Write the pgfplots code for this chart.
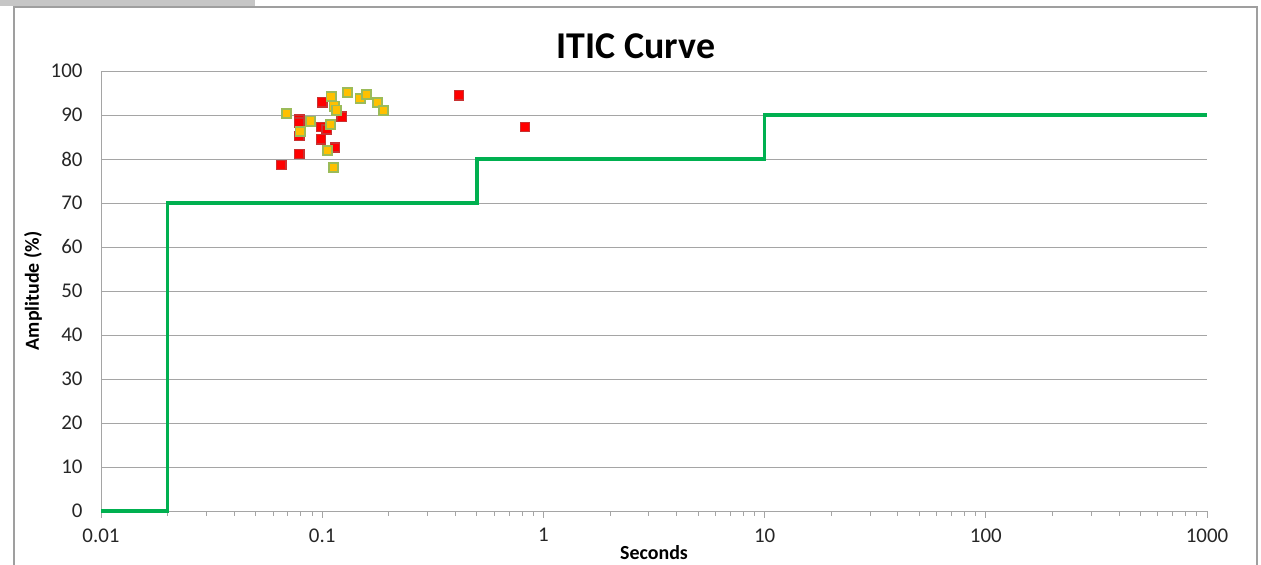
\documentclass[border=0pt]{standalone}
\usepackage{pgfplots}
\pgfplotsset{compat=1.18}
\usepackage{fontspec}
\setmainfont{Carlito}
\definecolor{itic}{RGB}{0,176,80}
\definecolor{gridc}{RGB}{165,165,165}
\definecolor{yfill}{RGB}{255,192,0}
\definecolor{yedge}{RGB}{155,187,89}
\definecolor{redge}{RGB}{200,50,50}
\begin{document}
\begin{tikzpicture}[x=1bp,y=1bp]
\useasboundingbox (0,0) rectangle (1261,565);
\fill[gray!45] (0,559) rectangle (255,565);
\draw[gray!75, line width=1.5bp] (14,-5) -- (14,558) -- (1257,558) -- (1257,-5);
\begin{axis}[
  at={(101bp,54bp)}, anchor=south west, scale only axis,
  width=1106bp, height=440bp,
  xmode=log, xmin=0.01, xmax=1000, ymin=0, ymax=100,
  xtick={0.01,0.1,1,10,100,1000},
  xticklabels={0.01,0.1,1,10,100,1000},
  ytick={0,10,...,100},
  ymajorgrids, grid style={gridc, line width=0.9bp},
  axis lines*=left,
  axis line style={gridc, line width=0.9bp},
  tick style={gridc, line width=0.9bp},
  tick align=outside,
  major tick length=7bp, minor tick length=5bp,
  ytick style={draw=none},
  /pgf/number format/assume math mode=true,
  tick label style={font=\fontsize{21}{24}\selectfont, black!85},
  yticklabel style={xshift=-8bp},
  xticklabel style={yshift=-7bp},
  title={\bfseries ITIC Curve},
  title style={font=\fontsize{38}{42}\selectfont, at={(axis description cs:0.5,1)}, anchor=center, yshift=19bp, xshift=-18bp},
  xlabel={\bfseries Seconds},
  xlabel style={font=\fontsize{20}{23}\selectfont, at={(axis description cs:0.5,0)}, anchor=center, yshift=-42bp},
  ylabel={\bfseries Amplitude (\%)},
  ylabel style={font=\fontsize{20}{23}\selectfont, at={(axis description cs:0,0.5)}, anchor=center, yshift=68bp},
  clip=false,
]
\pgfplotsinvokeforeach{0,10,...,100}{\draw[gridc, line width=0.9bp] (axis cs:0.01,#1) ++(-7bp,0) -- ++(13bp,0);}
\addplot[itic, line width=3.5bp] coordinates {
 (0.01,0) (0.02,0) (0.02,70) (0.5,70) (0.5,80) (10,80) (10,90) (1000,90)};
\addplot[only marks, mark=square*, mark size=4.6bp, mark options={fill=red, draw=redge, line width=1.5bp}] coordinates {
 (0.1001,92.9) (0.0788,89.0) (0.0788,88.3) (0.0788,85.2) (0.0988,87.3)
 (0.1048,86.7) (0.0988,84.5) (0.1225,89.6) (0.1143,82.6) (0.0788,81.1)
 (0.0653,78.6) (0.4153,94.5) (0.8257,87.3)};
\addplot[only marks, mark=square*, mark size=4.6bp, mark options={fill=yfill, draw=yedge, line width=1.8bp}] coordinates {
 (0.0691,90.4) (0.1096,94.2) (0.1304,95.1) (0.1483,93.8) (0.1589,94.6)
 (0.1782,92.9) (0.1889,91.0) (0.1131,92.0) (0.1163,91.1) (0.0887,88.6)
 (0.1092,87.9) (0.0794,86.2) (0.1059,81.9) (0.1123,78.0)};
\end{axis}
\end{tikzpicture}
\end{document}
